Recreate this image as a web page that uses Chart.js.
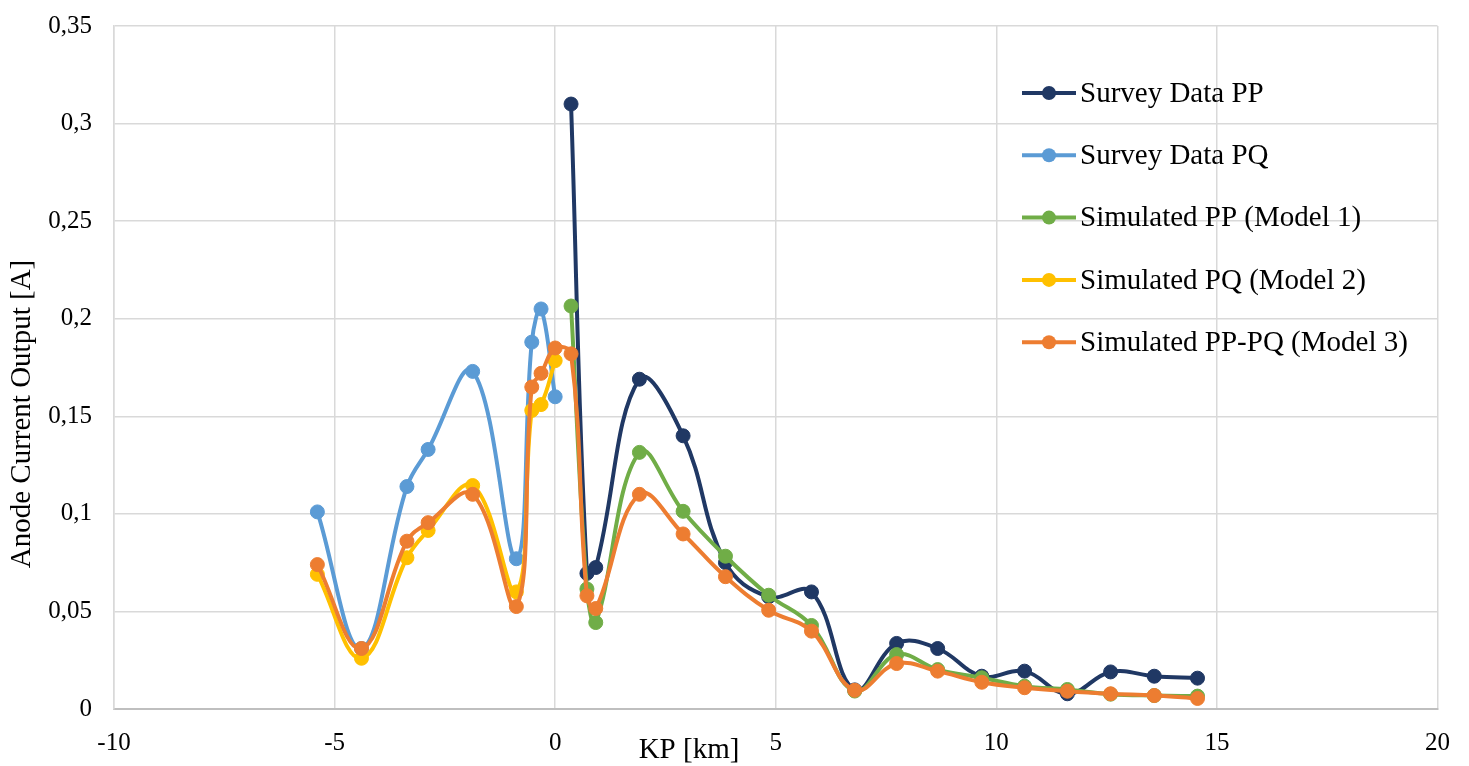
<!DOCTYPE html>
<html>
<head>
<meta charset="utf-8">
<script src="https://cdn.jsdelivr.net/npm/chart.js@4"></script>
<style>
  body { margin: 0; background: #fff; }
  #wrap { width: 1469px; height: 766px; }
</style>
</head>
<body>
<div id="wrap"><canvas id="anodeChart"></canvas></div>
<script>
// KP positions [km]
const kpPQ = [-5.39, -4.39, -3.36, -2.88, -1.87, -0.88, -0.53, -0.32, 0.0];
const kpPP = [0.36, 0.72, 0.92, 1.91, 2.9, 3.86, 4.84, 5.81, 6.79, 7.74, 8.67, 9.67, 10.64, 11.61, 12.59, 13.58, 14.56];

// anode current output [A]
const surveyPP = [0.310, 0.0695, 0.0725, 0.169, 0.140, 0.075, 0.0575, 0.060, 0.0098, 0.0336, 0.031, 0.0168, 0.0194, 0.0078, 0.019, 0.0168, 0.0158];
const surveyPQ = [0.101, 0.031, 0.114, 0.133, 0.173, 0.077, 0.188, 0.205, 0.160];
const model1PP = [0.2065, 0.0615, 0.0443, 0.1315, 0.1013, 0.0783, 0.0583, 0.0428, 0.0092, 0.0279, 0.0202, 0.016, 0.0117, 0.010, 0.0076, 0.0069, 0.0066];
const model2PQ = [0.069, 0.026, 0.0775, 0.0915, 0.1145, 0.060, 0.153, 0.156, 0.1785];
const model3Neg = [0.074, 0.031, 0.086, 0.0955, 0.110, 0.0525, 0.165, 0.172, 0.185];
const model3Pos = [0.182, 0.058, 0.0515, 0.110, 0.0897, 0.0678, 0.0506, 0.0399, 0.0096, 0.0233, 0.0194, 0.0137, 0.0109, 0.0091, 0.0078, 0.0069, 0.0054];

const seriesNames = ['Survey Data PP', 'Survey Data PQ', 'Simulated PP (Model 1)', 'Simulated PQ (Model 2)', 'Simulated PP-PQ (Model 3)'];
const seriesColors = ['#203864', '#5b9bd5', '#70ad47', '#ffc000', '#ed7d31'];

const xTicks = { min: -10, max: 20, step: 5 };
const yTicks = { min: 0, max: 0.35, step: 0.05 };

const pts = (xs, ys) => xs.map((x, i) => ({ x: x, y: ys[i] }));

const serif = "'Liberation Serif', 'Times New Roman', serif";
Chart.defaults.font.family = serif;
Chart.defaults.color = '#000';

const makeSet = (i, data) => ({
    label: seriesNames[i],
    data: data,
    showLine: true,
    borderColor: seriesColors[i],
    backgroundColor: seriesColors[i],
    pointBackgroundColor: seriesColors[i],
    pointBorderColor: seriesColors[i],
    pointBorderWidth: 1,
    pointRadius: 7,
    pointHoverRadius: 7,
    borderWidth: 4,
    tension: 0.4,
    order: 4 - i   // excel style: last series on top
});

// legend + axis titles drawn at the same spots as the excel figure
const extras = {
    id: 'extras',
    afterDraw(chart) {
        const ctx = chart.ctx;
        const a = chart.chartArea;
        ctx.save();
        // legend
        ctx.font = '29px ' + serif;
        ctx.textBaseline = 'middle';
        ctx.textAlign = 'left';
        chart.data.datasets.forEach((ds, i) => {
            const y = 93 + i * 62.3;
            const x0 = a.left + 908;
            ctx.strokeStyle = ds.borderColor;
            ctx.lineWidth = 4;
            ctx.beginPath();
            ctx.moveTo(x0, y);
            ctx.lineTo(x0 + 54, y);
            ctx.stroke();
            ctx.fillStyle = ds.borderColor;
            ctx.beginPath();
            ctx.arc(x0 + 27, y, 7, 0, Math.PI * 2);
            ctx.fill();
            ctx.fillStyle = '#000';
            ctx.fillText(ds.label, x0 + 58, y + 1);
        });
        // axis titles
        ctx.font = '29px ' + serif;
        ctx.textAlign = 'center';
        ctx.fillText('KP [km]', a.left + 575, a.bottom + 41);
        ctx.translate(22, 414);
        ctx.rotate(-Math.PI / 2);
        ctx.fillText('Anode Current Output [A]', 0, 0);
        ctx.restore();
    }
};

const ctx = document.querySelector('#anodeChart').getContext('2d');
new Chart(ctx, {
    type: 'scatter',
    data: {
        datasets: [
            makeSet(0, pts(kpPP, surveyPP)),
            makeSet(1, pts(kpPQ, surveyPQ)),
            makeSet(2, pts(kpPP, model1PP)),
            makeSet(3, pts(kpPQ, model2PQ)),
            makeSet(4, pts(kpPQ.concat(kpPP), model3Neg.concat(model3Pos)))
        ]
    },
    options: {
        responsive: true,
        maintainAspectRatio: false,
        animation: false,
        events: [],
        layout: { padding: { top: 26, right: 31.5, left: 0, bottom: 0 } },
        plugins: {
            legend: { display: false },
            tooltip: { enabled: false }
        },
        scales: {
            x: {
                type: 'linear',
                min: xTicks.min,
                max: xTicks.max,
                ticks: {
                    stepSize: xTicks.step,
                    font: { size: 25 },
                    color: '#000',
                    padding: 19
                },
                grid: { color: '#d9d9d9', lineWidth: 1.5, drawTicks: false },
                border: { color: '#bfbfbf', width: 2 },
                afterFit: s => { s.height = 57; s.paddingLeft = 0; s.paddingRight = 0; }
            },
            y: {
                min: yTicks.min,
                max: yTicks.max,
                ticks: {
                    stepSize: yTicks.step,
                    font: { size: 25 },
                    color: '#000',
                    padding: 22,
                    callback: v => String(Math.round(v * 100) / 100).replace('.', ',')
                },
                grid: { color: '#d9d9d9', lineWidth: 1.5, drawTicks: false },
                border: { color: '#d9d9d9', width: 1.5 },
                afterFit: s => { s.width = 114; s.paddingTop = 0; s.paddingBottom = 0; }
            }
        }
    },
    plugins: [extras]
});
</script>
</body>
</html>
